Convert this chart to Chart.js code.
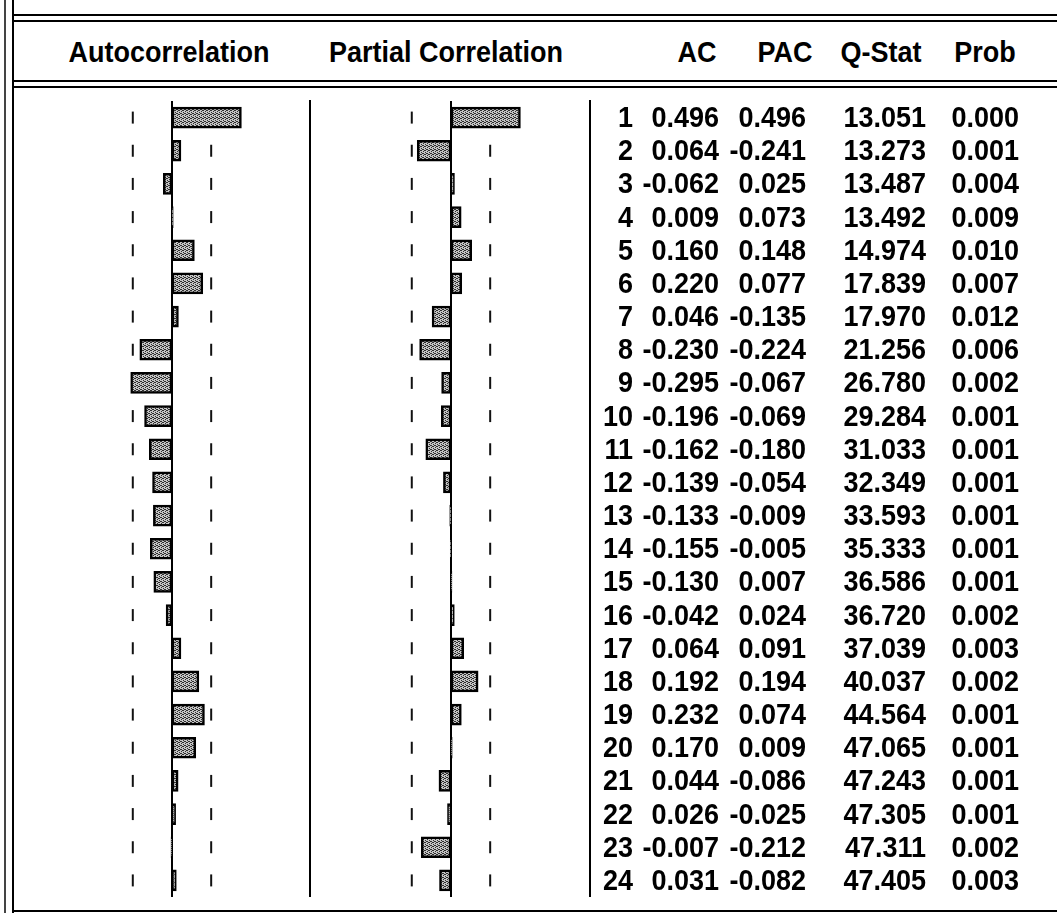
<!DOCTYPE html>
<html>
<head>
<meta charset="utf-8">
<script src="https://cdn.jsdelivr.net/npm/chart.js@4.4.1/dist/chart.umd.min.js"></script>
<style>
    html, body { margin: 0; padding: 0; background: #fff; }
    body {
        width: 1057px; height: 913px; position: relative; overflow: hidden;
        font-family: "Liberation Sans", Arial, sans-serif; font-weight: bold; color: #000;
    }
    .ln { position: absolute; background: #000; }
    .hd { position: absolute; top: 34px; font-size: 27px; line-height: 36px; white-space: nowrap; transform: translateX(-50%) scaleY(1.08); }
    .panel { position: absolute; top: 101px; height: 796px; }
    #tbl { position: absolute; left: 0; top: 101px; width: 1057px; height: 796px; }
    .row { position: absolute; left: 0; width: 1057px; height: 33px; font-size: 27px; line-height: 33px; }
    .row span { position: absolute; top: 0; text-align: right; white-space: nowrap; transform: scaleY(1.08); }
</style>
</head>
<body>
<div class="ln" style="left:4px;top:0;width:2px;height:913px;background:#444"></div>
<div class="ln" style="left:12px;top:0;width:2px;height:913px"></div>
<div class="ln" style="left:12px;top:14px;width:1045px;height:2px"></div>
<div class="ln" style="left:12px;top:20px;width:1045px;height:2px"></div>
<div class="ln" style="left:12px;top:80px;width:1045px;height:2px"></div>
<div class="ln" style="left:12px;top:86px;width:1045px;height:2px"></div>
<div class="ln" style="left:12px;top:910px;width:1045px;height:2px"></div>
<div class="ln" style="left:309px;top:100px;width:2px;height:797px"></div>
<div class="ln" style="left:589px;top:100px;width:2px;height:797px"></div>

<div class="hd" style="left:169px">Autocorrelation</div>
<div class="hd" style="left:446px">Partial Correlation</div>
<div class="hd" style="left:697px">AC</div>
<div class="hd" style="left:785px">PAC</div>
<div class="hd" style="left:881px">Q-Stat</div>
<div class="hd" style="left:985px">Prob</div>

<div class="panel" style="left:12px;width:298px"><canvas id="acChart"></canvas></div>
<div class="panel" style="left:310px;width:280px"><canvas id="pacChart"></canvas></div>
<div id="tbl"></div>

<script>
(function () {
    'use strict';

    // ====== data ======
    const lags = [1, 2, 3, 4, 5, 6, 7, 8, 9, 10, 11, 12, 13, 14, 15, 16, 17, 18, 19, 20, 21, 22, 23, 24];
    const acValues = [0.496, 0.064, -0.062, 0.009, 0.160, 0.220, 0.046, -0.230, -0.295, -0.196, -0.162, -0.139,
        -0.133, -0.155, -0.130, -0.042, 0.064, 0.192, 0.232, 0.170, 0.044, 0.026, -0.007, 0.031];
    const pacValues = [0.496, -0.241, 0.025, 0.073, 0.148, 0.077, -0.135, -0.224, -0.067, -0.069, -0.180, -0.054,
        -0.009, -0.005, 0.007, 0.024, 0.091, 0.194, 0.074, 0.009, -0.086, -0.025, -0.212, -0.082];
    const qStat = [13.051, 13.273, 13.487, 13.492, 14.974, 17.839, 17.970, 21.256, 26.780, 29.284, 31.033, 32.349,
        33.593, 35.333, 36.586, 36.720, 37.039, 40.037, 44.564, 47.065, 47.243, 47.305, 47.311, 47.405];
    const prob = [0.000, 0.001, 0.004, 0.009, 0.010, 0.007, 0.012, 0.006, 0.002, 0.001, 0.001, 0.001,
        0.001, 0.001, 0.001, 0.002, 0.003, 0.002, 0.001, 0.001, 0.001, 0.001, 0.002, 0.003];
    const band = 0.28; // dashed confidence marks, approx 2/sqrt(n)

    // ====== grey stipple fill like the printout ======
    function stipple() {
        const c = document.createElement('canvas');
        c.width = 4; c.height = 4;
        const g = c.getContext('2d');
        g.fillStyle = '#c4c4c4'; g.fillRect(0, 0, 4, 4);
        g.fillStyle = '#2e2e2e';
        [[0, 0], [2, 1], [1, 2], [3, 3], [3, 1], [1, 0]].forEach(([x, y]) => g.fillRect(x, y, 1, 1));
        return g.createPattern(c, 'repeat');
    }

    const zeroLine = {
        id: 'zeroLine',
        beforeDatasetsDraw(chart) {
            const ctx = chart.ctx;
            const x = Math.round(chart.scales.x.getPixelForValue(0));
            const { top, bottom } = chart.chartArea;
            ctx.save();
            ctx.strokeStyle = '#000';
            ctx.lineWidth = 2;
            ctx.beginPath();
            ctx.moveTo(x, top - 1);
            ctx.lineTo(x, bottom + 1);
            ctx.stroke();
            ctx.restore();
        }
    };

    function bandSet(v) {
        return {
            type: 'line', indexAxis: 'y',
            data: lags.map(() => v),
            showLine: false,
            pointStyle: 'line', pointRotation: 90, pointRadius: 6,
            pointBorderWidth: 2, pointBorderColor: '#111', pointBackgroundColor: '#111'
        };
    }

    function makePanel(id, values, xMin, xMax) {
        return new Chart(document.getElementById(id), {
            data: {
                labels: lags,
                datasets: [
                    {
                        type: 'bar', indexAxis: 'y',
                        data: values,
                        backgroundColor: stipple(),
                        borderColor: '#000',
                        borderWidth: 2.5,
                        borderSkipped: false,
                        barThickness: 21
                    },
                    bandSet(-band),
                    bandSet(band)
                ]
            },
            options: {
                indexAxis: 'y',
                responsive: true,
                maintainAspectRatio: false,
                animation: false,
                events: [],
                layout: { padding: 0, autoPadding: false },
                scales: {
                    x: { type: 'linear', min: xMin, max: xMax, display: false },
                    y: { type: 'category', offset: true, display: false }
                },
                plugins: { legend: { display: false }, tooltip: { enabled: false } }
            },
            plugins: [zeroLine]
        });
    }

    // axis at x=172 and x=451, about 140 px per unit
    const acChart = makePanel('acChart', acValues, -1.143, 0.986);
    makePanel('pacChart', pacValues, -1.007, 0.993);

    // ====== numeric table, rows placed on the chart's own category scale ======
    const tbl = document.getElementById('tbl');
    const ys = acChart.scales.y;
    const cols = [
        { vals: lags, right: 633, fmt: (v) => String(v) },
        { vals: acValues, right: 719, fmt: (v) => v.toFixed(3) },
        { vals: pacValues, right: 806, fmt: (v) => v.toFixed(3) },
        { vals: qStat, right: 926, fmt: (v) => v.toFixed(3) },
        { vals: prob, right: 1019, fmt: (v) => v.toFixed(3) }
    ];
    lags.forEach((lag, i) => {
        const row = document.createElement('div');
        row.className = 'row';
        row.style.top = (ys.getPixelForValue(i) - 16.5) + 'px';
        cols.forEach((c) => {
            const s = document.createElement('span');
            s.style.right = (1057 - c.right) + 'px';
            s.textContent = c.fmt(c.vals[i]);
            row.appendChild(s);
        });
        tbl.appendChild(row);
    });
})();
</script>
</body>
</html>
